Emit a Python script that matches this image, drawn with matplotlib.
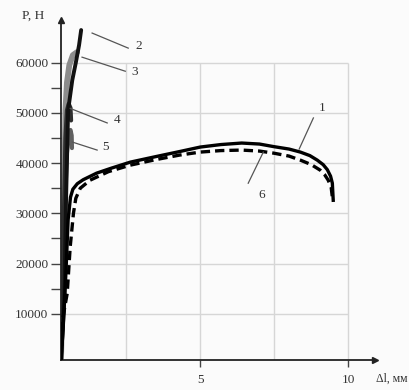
import matplotlib
matplotlib.use("Agg")
import matplotlib.pyplot as plt

plt.rcParams['font.family'] = ['Liberation Serif', 'DejaVu Serif']

# ---- data (Δl in mm, P in N) ----
c1_x = [0.3, 0.37, 0.47, 0.54, 0.62, 0.70, 0.85, 1.05, 1.5, 2.0, 2.64, 3.5, 4.3, 5.0, 5.7, 6.4, 7.0, 7.47, 8.0, 8.38, 8.7, 8.95, 9.15, 9.29, 9.40, 9.46, 9.49]
c1_y = [800, 6800, 18700, 28700, 33200, 34800, 35900, 36700, 38000, 39000, 40200, 41300, 42300, 43200, 43700, 44000, 43800, 43300, 42800, 42200, 41500, 40600, 39700, 38700, 37400, 36000, 32600]

c6_x = [0.3, 0.37, 0.51, 0.61, 0.72, 0.80, 0.95, 1.28, 1.9, 2.64, 3.5, 4.3, 5.0, 5.7, 6.4, 7.0, 7.47, 8.0, 8.38, 8.75, 9.05, 9.2, 9.32, 9.42, 9.46]
c6_y = [800, 9400, 14100, 23300, 30000, 33000, 35000, 36600, 38300, 39600, 40700, 41600, 42200, 42500, 42600, 42400, 42000, 41400, 40600, 39700, 38600, 37700, 36600, 35200, 33200]

c2_x = [0.3, 0.41, 0.47, 0.54, 0.68, 0.80, 0.91, 0.98]
c2_y = [800, 12700, 32600, 50500, 56500, 60000, 63500, 66500]

c3_x = [0.3, 0.40, 0.45, 0.50, 0.58, 0.70, 0.84]
c3_y = [800, 30000, 50500, 56000, 59500, 61500, 62100]

c4_x = [0.3, 0.40, 0.45, 0.50, 0.56, 0.62, 0.64]
c4_y = [800, 30000, 45000, 50500, 51800, 51000, 48500]

c5_x = [0.3, 0.42, 0.50, 0.56, 0.62, 0.66, 0.67]
c5_y = [800, 30000, 42000, 45800, 46600, 45500, 43000]

y_ticks = [10000, 20000, 30000, 40000, 50000, 60000]
y_minor = [15000, 25000, 35000, 45000, 55000]
x_ticks = [5, 10]
x_grid = [2.5, 5, 7.5, 10]

# ---- figure ----
fig = plt.figure(figsize=(4.09, 3.90), dpi=100, facecolor='#fbfbfb')
ax = fig.add_axes([61/409, 30/390, (375-61)/409, (360-20)/390])
ax.set_facecolor('#fbfbfb')
ax.set_xlim(0.3, 10.9)
ax.set_ylim(800, 68500)

gc = '#d6d6d6'
ax.hlines(y_ticks, 0.3, 10, colors=gc, lw=1, zorder=0)
ax.vlines(x_grid, 800, 60000, colors=gc, lw=1, zorder=0)

ax.plot(c3_x, c3_y, color='#8c8c8c', lw=4.2, solid_capstyle='round', zorder=2)
ax.plot(c5_x, c5_y, color='#606060', lw=3, solid_capstyle='round', zorder=2)
ax.plot(c4_x, c4_y, color='#2e2e2e', lw=3, solid_capstyle='round', zorder=2)
ax.plot(c2_x, c2_y, color='#111111', lw=2.8, solid_capstyle='round', zorder=3)
ax.plot(c1_x, c1_y, color='black', lw=2.4, zorder=4)
ax.plot(c6_x, c6_y, color='black', lw=2.4, dashes=(2.8, 1.5), zorder=4)

# spines
for s in ['top', 'right']:
    ax.spines[s].set_visible(False)
for s in ['left', 'bottom']:
    ax.spines[s].set_color('#222222')
    ax.spines[s].set_linewidth(1.3)
ax.plot(1, 0, '>', color='#222222', ms=5, transform=ax.transAxes, clip_on=False)
ax.plot(0, 1, '^', color='#222222', ms=5, transform=ax.transAxes, clip_on=False)

ax.set_yticks(y_ticks)
ax.set_yticklabels([str(v) for v in y_ticks])
ax.set_yticks(y_minor, minor=True)
ax.tick_params(axis='y', which='both', length=7, width=1, color='#444444', pad=2,
               labelsize=9.5, labelcolor='#333333')
ax.set_xticks(x_ticks)
ax.set_xticklabels([str(v) for v in x_ticks])
ax.tick_params(axis='x', length=5, width=1, color='#444444', pad=5,
               labelsize=9.5, labelcolor='#333333')

# annotations
lc = '#555555'
ann = [
    ('2', (1.35, 65900), (2.57, 62900), (2.91, 63300)),
    ('3', (1.01, 61100), (2.47, 58300), (2.77, 58100)),
    ('4', (0.61, 50900), (1.86, 48000), (2.20, 48600)),
    ('5', (0.68, 44200), (1.52, 42600), (1.79, 43200)),
    ('1', (8.34, 42800), (8.82, 49000), (9.12, 50900)),
    ('6', (7.13, 42200), (6.62, 36000), (7.09, 33600)),
]
for lab, p0, p1, pt in ann:
    ax.plot([p0[0], p1[0]], [p0[1], p1[1]], color=lc, lw=0.9, zorder=5)
    ax.text(pt[0], pt[1], lab, ha='center', va='center', fontsize=9.5, color='#333333')

fig.text(33/409, 1 - 16/390, 'P, H', ha='center', va='center', fontsize=9.5, color='#333333')
fig.text(376/409, 11/390, 'Δl, мм', ha='left', va='center', fontsize=8.5, color='#333333')

fig.savefig('out.png', dpi=100, facecolor=fig.get_facecolor())
